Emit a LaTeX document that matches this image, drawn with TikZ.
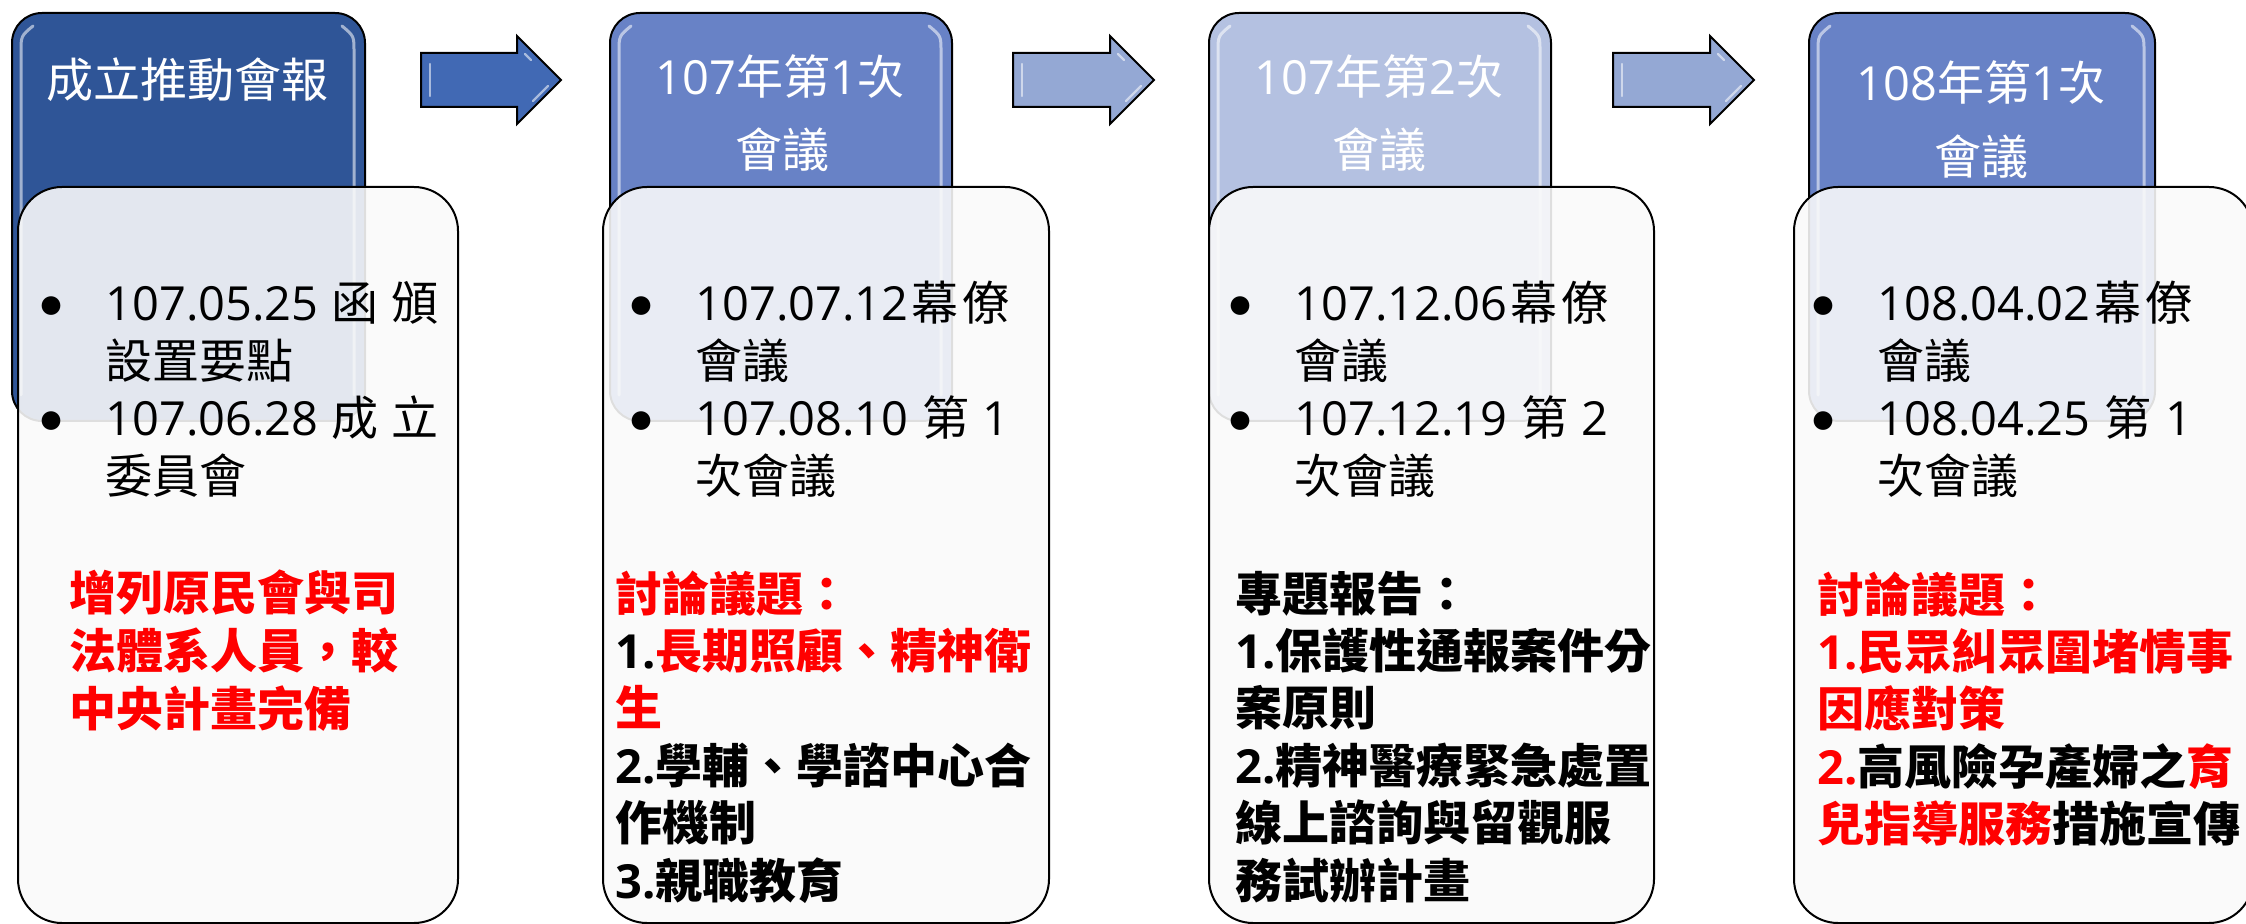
\documentclass[tikz,border=0pt]{standalone}
\usepackage{fontspec}
\setmainfont{Noto Sans CJK TC}
\newfontfamily\lat{Open Sans}
\newcommand\N[1]{{\lat #1}}
\newcommand\Ln[1]{\hbox{#1}}
\definecolor{hdark}{HTML}{2F5597}
\definecolor{hmid}{HTML}{6882C6}
\definecolor{hlight}{HTML}{B4C1E1}
\definecolor{adark}{HTML}{4169B4}
\definecolor{alight}{HTML}{94A8D4}
\definecolor{myred}{HTML}{FF0000}
\tikzset{
 hbox/.style={draw=black, line width=1pt, rounded corners=15pt, anchor=north west, minimum height=204pt, inner sep=0pt},
 cbox/.style={draw=black, line width=1pt, rounded corners=22pt, anchor=north west, minimum height=368pt, inner sep=0pt, fill=white!98!black, fill opacity=0.89, draw opacity=1},
 arrowbox/.style={draw=black, line width=1pt, line join=miter},
 glint/.style={white, opacity=0.55, line width=1.5pt, line cap=round},
 htext/.style={text=white, font=\fontsize{23.5}{30}\selectfont, anchor=base, inner sep=0pt},
 btext/.style={font=\fontsize{23.5}{28.75}\selectfont, anchor=base west, inner sep=0pt},
 bdot/.style={font=\fontsize{44}{44}\selectfont, anchor=center, inner sep=0pt},
 ktext/.style={font=\fontsize{23.5}{28.7}\selectfont\bfseries, anchor=base west, inner sep=0pt},
}
\begin{document}
\begin{tikzpicture}[x=0.5pt,y=-0.5pt]
\useasboundingbox (0,0) rectangle (2246,924);
\fill[white] (0,0) rectangle (2246,924);

% header boxes
\node[hbox, fill=hdark, minimum width=176.5pt] (h1) at (11,12) {};
\node[hbox, fill=hmid, minimum width=171pt] (h2) at (609,12) {};
\node[hbox, fill=hlight, minimum width=171pt] (h3) at (1208,12) {};
\node[hbox, fill=hmid, minimum width=173pt] (h4) at (1808,12) {};
\foreach \a/\b in {21/354, 619/941, 1218/1540, 1818/2144}{
  \draw[glint] (\a,395) -- (\a,52) .. controls (\a,36) .. (\a+12,26);
  \draw[glint] (\b,395) -- (\b,52) .. controls (\b,36) .. (\b-12,26);
}

% block arrows
\foreach \L/\B/\T/\c in {421/517/561/adark, 1013/1110/1154/alight, 1613/1710/1754/alight}{
  \draw[arrowbox, fill=\c] (\L,53) -- (\B,53) -- (\B,36) -- (\T,80) -- (\B,124) -- (\B,107) -- (\L,107) -- cycle;
  \draw[glint, line width=1.2pt] (\L+9,64) -- (\L+9,96);
  \draw[glint, line width=1.2pt] (\T-13,86) -- (\T-28,101);
  \draw[glint, line width=1.2pt] (\T-30,60) -- (\T-36,54);
}

% content boxes
\node[cbox, minimum width=220pt] (c1) at (17,186) {};
\node[cbox, minimum width=223pt] (c2) at (602,186) {};
\node[cbox, minimum width=222.5pt] (c3) at (1208,186) {};
\node[cbox, minimum width=229.5pt] (c4) at (1793,186) {};

% header texts
\node[htext] (h1t) at (187.5,98) {成立推動會報};
\node[htext] (h2t) at (780,95) {\N{107}年第\N{1}次};
\node[htext] (h2u) at (782,168) {會議};
\node[htext] (h3t) at (1379,95) {\N{107}年第\N{2}次};
\node[htext] (h3u) at (1379,168) {會議};
\node[htext] (h4t) at (1981,101) {\N{108}年第\N{1}次};
\node[htext] (h4u) at (1981,175) {會議};

% bullets
\node[bdot] (d11) at (52,318) {•};
\node[bdot] (d12) at (52,433) {•};
\node[bdot] (d21) at (641,318) {•};
\node[bdot] (d22) at (641,433) {•};
\node[bdot] (d31) at (1240,318) {•};
\node[bdot] (d32) at (1240,433) {•};
\node[bdot] (d41) at (1823,318) {•};
\node[bdot] (d42) at (1823,433) {•};

% bullet texts
\node[btext] (c1b) at (105,321) {\vtop{\baselineskip=28.75pt
  \Ln{\hbox to 166.5pt{\N{107.05.25}\hfill 函\hfill 頒}}
  \Ln{設置要點}
  \Ln{\hbox to 166.5pt{\N{107.06.28}\hfill 成\hfill 立}}
  \Ln{委員會}}};
\node[btext] (c2b) at (695,321) {\vtop{\baselineskip=28.75pt
  \Ln{\hbox to 157pt{\N{107.07.12}\hfill 幕\hfill 僚}}
  \Ln{會議}
  \Ln{\hbox to 157pt{\N{107.08.10}\hfill 第\hfill \N{1}}}
  \Ln{次會議}}};
\node[btext] (c3b) at (1294,321) {\vtop{\baselineskip=28.75pt
  \Ln{\hbox to 157pt{\N{107.12.06}\hfill 幕\hfill 僚}}
  \Ln{會議}
  \Ln{\hbox to 157pt{\N{107.12.19}\hfill 第\hfill \N{2}}}
  \Ln{次會議}}};
\node[btext] (c4b) at (1877,321) {\vtop{\baselineskip=28.75pt
  \Ln{\hbox to 157.5pt{\N{108.04.02}\hfill 幕\hfill 僚}}
  \Ln{會議}
  \Ln{\hbox to 157.5pt{\N{108.04.25}\hfill 第\hfill \N{1}}}
  \Ln{次會議}}};

% bold blocks
\node[ktext, text=myred] (c1k) at (69,610) {\vtop{\baselineskip=29pt
  \Ln{增列原民會與司}
  \Ln{法體系人員，較}
  \Ln{中央計畫完備}}};
\node[ktext] (c2k) at (615,611) {\vtop{\baselineskip=28.7pt
  \Ln{\color{myred}討論議題：}
  \Ln{\N{1.}\color{myred}長期照顧、精神衛}
  \Ln{\color{myred}生}
  \Ln{\N{2.}學輔、學諮中心合}
  \Ln{作機制}
  \Ln{\N{3.}親職教育}}};
\node[ktext] (c3k) at (1235,611) {\vtop{\baselineskip=28.7pt
  \Ln{專題報告：}
  \Ln{\N{1.}保護性通報案件分}
  \Ln{案原則}
  \Ln{\N{2.}精神醫療緊急處置}
  \Ln{線上諮詢與留觀服}
  \Ln{務試辦計畫}}};
\node[ktext] (c4k) at (1817,612) {\vtop{\baselineskip=28.7pt
  \Ln{\color{myred}討論議題：}
  \Ln{\color{myred}\N{1.}民眾糾眾圍堵情事}
  \Ln{\color{myred}因應對策}
  \Ln{{\color{myred}\N{2.}}高風險孕產婦之{\color{myred}育}}
  \Ln{{\color{myred}兒指導服務}措施宣傳}}};
\end{tikzpicture}
\end{document}
